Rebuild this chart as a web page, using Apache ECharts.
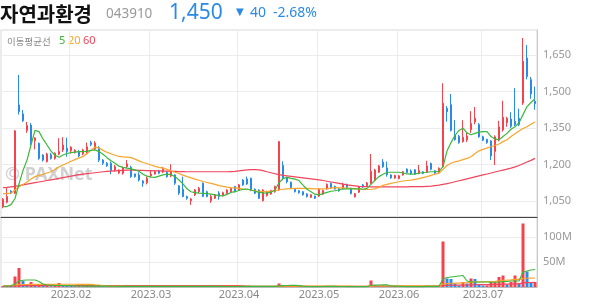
<!DOCTYPE html>
<html><head><meta charset="utf-8">
<script src="https://cdn.jsdelivr.net/npm/echarts@6/dist/echarts.min.js"></script>
<style>html,body{margin:0;padding:0;background:#fff}#c{width:594px;height:304px}</style>
</head><body><div id="c"></div>
<script>
// trading days (2023)
const janDays = [5,6,9,10,11,12,13,16,17,18,19,20,25,26,27,30,31];
const febDays = [1,2,3,6,7,8,9,10,13,14,15,16,17,20,21,22,23,24,27,28];
const marDays = [2,3,6,7,8,9,10,13,14,15,16,17,20,21,22,23,24,27,28,29,30,31];
const aprDays = [3,4,5,6,7,10,11,12,13,14,17,18,19,20,21,24,25,26,27,28];
const mayDays = [2,3,4,8,9,10,11,12,15,16,17,18,19,22,23,24,25,26,30,31];
const junDays = [1,2,5,7,8,9,12,13,14,15,16,19,20,21,22,23,26,27,28,29,30];
const julDays = [3,4,5,6,7,10,11,12,13,14,17,18,19,20];

const openP = [1027,1045,1090,1082,1445,1408,1340,1362,1298,1287,1239,1212,1240,1225,1242,1260,1267,1257,1250,1253,1243,1246,1290,1265,1269,1218,1205,1205,1177,1166,1164,1191,1188,1161,1157,1132,1125,1153,1161,1173,1170,1168,1153,1157,1112,1098,1068,1051,1075,1088,1123,1088,1051,1061,1082,1072,1082,1088,1109,1095,1136,1140,1143,1098,1095,1051,1072,1079,1088,1095,1196,1146,1127,1098,1092,1088,1079,1065,1070,1070,1078,1100,1122,1110,1101,1102,1118,1102,1067,1086,1116,1113,1123,1135,1168,1210,1186,1157,1144,1142,1157,1181,1173,1178,1163,1170,1168,1204,1174,1168,1191,1431,1446,1322,1316,1294,1301,1343,1375,1364,1314,1303,1297,1253,1300,1342,1372,1387,1378,1390,1453,1638,1549,1460];
const closeP = [1057,1068,1082,1338,1417,1380,1360,1294,1309,1225,1218,1243,1225,1246,1253,1280,1253,1271,1258,1235,1260,1273,1282,1288,1218,1205,1195,1175,1191,1177,1187,1202,1150,1150,1136,1123,1143,1160,1170,1164,1180,1150,1170,1123,1082,1068,1061,1058,1095,1102,1068,1068,1068,1075,1068,1084,1095,1102,1088,1116,1116,1120,1095,1082,1061,1095,1088,1092,1109,1294,1143,1129,1105,1088,1084,1075,1068,1075,1061,1098,1093,1118,1104,1099,1092,1118,1106,1080,1080,1109,1108,1124,1172,1177,1194,1191,1158,1145,1155,1153,1170,1167,1163,1160,1175,1163,1194,1180,1163,1184,1452,1417,1340,1302,1290,1312,1317,1369,1390,1314,1300,1290,1235,1314,1355,1394,1390,1357,1364,1364,1624,1562,1490,1450];
const lowP = [1020,1040,1078,1078,1405,1375,1330,1280,1262,1219,1212,1208,1220,1220,1238,1251,1232,1245,1245,1230,1238,1240,1275,1258,1210,1198,1190,1160,1170,1160,1158,1185,1145,1146,1130,1108,1118,1148,1158,1160,1165,1146,1148,1116,1075,1065,1055,1034,1070,1082,1066,1065,1042,1058,1055,1069,1078,1085,1085,1092,1112,1116,1090,1078,1058,1048,1068,1075,1084,1092,1135,1122,1100,1085,1080,1072,1064,1062,1058,1066,1074,1096,1100,1096,1088,1099,1103,1077,1064,1083,1104,1110,1120,1130,1165,1186,1150,1141,1141,1139,1154,1163,1158,1157,1160,1160,1165,1176,1160,1165,1188,1376,1336,1298,1285,1290,1292,1330,1365,1310,1296,1285,1218,1198,1295,1335,1355,1350,1358,1358,1445,1550,1470,1425];
const highP = [1062,1108,1095,1342,1568,1424,1375,1370,1312,1290,1242,1248,1248,1250,1308,1312,1310,1275,1263,1260,1265,1290,1298,1296,1275,1222,1210,1212,1198,1180,1192,1218,1195,1163,1168,1136,1150,1175,1175,1178,1190,1172,1201,1160,1115,1150,1072,1062,1099,1108,1126,1092,1075,1079,1090,1088,1098,1106,1112,1120,1140,1150,1146,1102,1098,1098,1092,1096,1113,1296,1213,1150,1130,1100,1095,1090,1082,1078,1072,1102,1096,1122,1126,1113,1104,1125,1121,1105,1083,1112,1120,1128,1243,1182,1198,1222,1212,1160,1158,1157,1173,1184,1180,1181,1198,1173,1215,1208,1177,1188,1534,1440,1490,1383,1322,1382,1330,1419,1436,1370,1318,1306,1300,1320,1380,1462,1396,1415,1514,1430,1720,1691,1560,1520];

const ma5 = [1027,1027,1035,1060,1120,1175,1218,1280,1340,1335,1305,1280,1255,1238,1230,1239,1245,1249,1251,1253,1253,1254,1258,1260,1253,1242,1228,1215,1205,1193,1188,1185,1182,1178,1172,1160,1152,1148,1147,1152,1157,1160,1158,1150,1136,1120,1100,1088,1084,1082,1081,1080,1078,1075,1072,1071,1077,1085,1088,1093,1098,1099,1095,1090,1085,1083,1082,1086,1095,1125,1142,1147,1143,1140,1134,1115,1098,1088,1078,1075,1080,1085,1090,1092,1095,1099,1100,1100,1100,1100,1098,1102,1118,1136,1150,1160,1167,1168,1168,1168,1165,1161,1160,1161,1164,1167,1168,1170,1170,1172,1191,1255,1290,1320,1340,1349,1330,1322,1328,1333,1335,1335,1315,1305,1301,1315,1328,1345,1355,1372,1405,1438,1455,1470];
const ma20 = [1080,1081,1082,1095,1108,1118,1128,1140,1150,1155,1160,1165,1170,1180,1190,1198,1205,1213,1220,1227,1232,1245,1258,1272,1268,1258,1250,1244,1238,1233,1231,1230,1228,1222,1215,1208,1204,1198,1192,1188,1185,1180,1174,1168,1163,1156,1150,1145,1140,1135,1130,1126,1122,1118,1113,1110,1107,1105,1104,1102,1099,1097,1095,1092,1090,1088,1088,1090,1092,1096,1098,1100,1101,1102,1102,1102,1102,1101,1100,1100,1100,1101,1103,1105,1104,1104,1103,1102,1101,1100,1098,1097,1098,1100,1106,1114,1118,1122,1126,1129,1132,1134,1136,1139,1142,1146,1150,1155,1160,1164,1180,1196,1205,1211,1215,1220,1225,1232,1245,1256,1262,1268,1273,1278,1284,1294,1302,1315,1326,1338,1348,1355,1365,1375];
const ma60 = [1105,1106,1108,1110,1113,1116,1119,1122,1125,1128,1131,1134,1137,1140,1143,1146,1149,1152,1155,1158,1160,1162,1164,1166,1168,1170,1172,1173,1174,1175,1176,1177,1177,1177,1176,1176,1175,1175,1174,1174,1173,1173,1172,1172,1171,1171,1170,1170,1170,1170,1170,1170,1170,1170,1170,1170,1170,1171,1172,1174,1176,1178,1179,1179,1178,1175,1170,1166,1162,1158,1155,1153,1151,1149,1147,1145,1143,1141,1139,1137,1134,1131,1128,1125,1122,1119,1116,1114,1112,1110,1109,1109,1108,1108,1108,1108,1108,1108,1108,1108,1108,1108,1109,1109,1109,1109,1110,1111,1113,1115,1118,1121,1125,1129,1133,1137,1141,1145,1149,1153,1157,1161,1165,1169,1173,1177,1181,1185,1190,1196,1203,1210,1217,1225];

// volume in millions of shares
const volume = [2,4,2,21,38,12,4,10,3,3, 2,2,1.5,2,8,3,2.5,2,1.5,1.8, 1.5,2,1.8,2.2,2,1.5,1.2,1.6,1.3,1.1, 1.2,1.5,1.6,1,1.3,1.5,1.2,1.4,1,0.9, 1.1,1,1.6,1.4,1.5,1.8,1,1.2,1.3,1.1, 1.5,1,1.2,0.9,1,0.8,1,1.1,0.9,1.2, 1.1,1.3,1.5,1,1.2,1.6,1,0.9,1.4,7, 4,2,1.6,1,0.8,0.9,0.8,0.7,0.8,1.5, 1,1.3,1.1,0.8,0.7,1,0.9,0.8,0.7,1.2, 0.9,1,13,3,2.5,2,1.8,1.2,0.9,0.8, 1,0.9,0.8,0.9,1.2,0.8,3,1.5,0.8,1, 91,17,16,7,3,10,7,17,16,5, 3,3.2,10,10.5,20,23,5,10,23,7, 127,31,9,10];
const volMa5 = [1.5,2,2.5,6,12,13.5,14,14,14,11, 6,4,3.5,3,3,3,2.8,2.5,2.2,2, 2,1.9,1.8,1.8,1.8,1.7,1.6,1.5,1.5,1.4, 1.4,1.4,1.4,1.3,1.3,1.3,1.3,1.3,1.2,1.2, 1.2,1.2,1.2,1.3,1.3,1.4,1.4,1.3,1.3,1.3, 1.2,1.2,1.2,1.1,1.1,1,1,1,1,1, 1.1,1.1,1.2,1.2,1.2,1.3,1.3,1.2,1.2,2.3, 2.8,3,3.2,3.1,2.9,1.8,1,0.9,0.8,0.9, 1,1.1,1.1,1.1,1,1,0.9,0.9,0.8,0.9, 0.9,1,3.5,3.8,4,4.3,4.4,2,1.8,1.5, 1.1,0.9,0.9,0.9,0.9,0.9,1.3,1.4,1.4,1.4, 16,19,20,21,22,23,12,10,10,10, 10,10,9.5,9.5,10,11,11,12,12,12, 30,32,34,35];
const volMa20 = [3,3,3,4,5,5,5,5.2,5.2,5.2, 5.2,5.2,5.2,5.2,5.5,5.5,5.5,5.5,5.5,5.4, 5.4,5.3,5.2,4.5,4,2.8,2.3,2,2,1.6, 1.6,1.5,1.5,1.4,1.4,1.4,1.3,1.3,1.3,1.3, 1.3,1.3,1.3,1.3,1.3,1.3,1.3,1.3,1.2,1.2, 1.2,1.2,1.2,1.2,1.2,1.2,1.2,1.2,1.2,1.2, 1.2,1.2,1.2,1.2,1.2,1.2,1.2,1.2,1.2,1.5, 1.6,1.6,1.6,1.6,1.6,1.6,1.6,1.6,1.6,1.6, 1.6,1.6,1.6,1.6,1.6,1.6,1.6,1.6,1.3,1.3, 1.3,1.3,1.9,2,2,2.1,2.1,2.1,2.1,2.1, 2.1,2.1,2.1,2.1,2.1,2.1,2.2,2.2,2.2,2.2, 6,6.8,7.5,7.8,7.9,8.3,8.6,9.4,10.1,10.3, 10.4,10.5,11,11.5,12.4,13.5,13.7,14.1,15.2,15.4, 16.5,17.5,17.8,18];
const volMa60 = [2,2,2,2.2,2.5,2.6,2.6,2.7,2.7,2.7, 2.7,2.7,2.7,2.7,2.8,2.8,2.8,2.8,2.8,2.8, 2.8,2.8,2.8,2.8,2.8,2.8,2.8,2.8,2.8,2.8, 2.8,2.8,2.8,2.8,2.8,2.8,2.8,2.8,2.8,2.8, 2.8,2.8,2.8,2.8,2.8,2.8,2.8,2.8,2.8,2.8, 2.8,2.8,2.8,2.8,2.8,2.8,2.8,2.8,2.8,2.8, 2.4,2,1.6,1.5,1.4,1.4,1.3,1.3,1.3,1.4, 1.4,1.4,1.4,1.4,1.4,1.4,1.4,1.4,1.4,1.4, 1.4,1.4,1.4,1.4,1.4,1.4,1.4,1.4,1.4,1.4, 1.4,1.4,1.6,1.6,1.6,1.6,1.6,1.6,1.6,1.6, 1.6,1.6,1.6,1.6,1.6,1.6,1.6,1.6,1.6,1.6, 3.1,3.4,3.6,3.7,3.7,3.9,4,4.3,4.5,4.6, 4.6,4.6,4.8,5,5.3,5.7,5.7,5.9,6.2,6.3, 8.4,8.9,9,9.2];

const priceTicks = [1050,1200,1350,1500,1650];
const volTicks = [50,100];

const dates = [];
[[1,janDays],[2,febDays],[3,marDays],[4,aprDays],[5,mayDays],[6,junDays],[7,julDays]].forEach(([m,ds]) => {
  ds.forEach(d => dates.push('2023.' + String(m).padStart(2,'0') + '.' + String(d).padStart(2,'0')));
});
const monthStart = new Set();
dates.forEach((d,i) => { if (i > 0 && d.slice(0,7) !== dates[i-1].slice(0,7)) monthStart.add(i); });
const isMonthStart = (i) => monthStart.has(i);

const UP = '#f4434c', DOWN = '#2a8ae8';
const G = '#3cb83c', O = '#f8a52a', R = '#f0455a';

const candle = openP.map((o,i) => [o, closeP[i], lowP[i], highP[i]]);
const volData = volume.map((v,i) => ({ value: v, itemStyle: { color: (i === 0 || v >= volume[i-1]) ? UP : DOWN } }));

const chart = echarts.init(document.getElementById('c'), null, {renderer: 'canvas'});
const lineS = (name, data, color, xi) => ({
  name, type: 'line', data, xAxisIndex: xi, yAxisIndex: xi, symbol: 'none', z: 3,
  lineStyle: { color, width: 1.2 }, itemStyle: { color }, silent: true
});
chart.setOption({
  animation: false,
  backgroundColor: '#fff',
  grid: [
    { left: 1, right: 57, top: 30, height: 187, show: true, borderColor: '#d8d8d8', borderWidth: 1 },
    { left: 1, right: 57, top: 217, height: 70, show: true, borderColor: '#d8d8d8', borderWidth: 1 }
  ],
  xAxis: [
    { type: 'category', gridIndex: 0, data: dates, boundaryGap: true,
      axisLine: { show: true, lineStyle: { color: '#444', width: 1 }, onZero: false },
      axisTick: { show: false, interval: isMonthStart }, axisLabel: { show: false, interval: isMonthStart },
      splitLine: { show: true, interval: isMonthStart, lineStyle: { color: '#ececec', width: 1 } } },
    { type: 'category', gridIndex: 1, data: dates, boundaryGap: true,
      axisLine: { show: true, lineStyle: { color: '#bbb', width: 1 }, onZero: false },
      axisTick: { show: false, interval: isMonthStart },
      axisLabel: { show: true, interval: isMonthStart, formatter: v => v.slice(0,7), color: '#888',
        fontSize: 11, fontFamily: 'Noto Sans', margin: 2 },
      splitLine: { show: true, interval: isMonthStart, lineStyle: { color: '#ececec', width: 1 } } }
  ],
  yAxis: [
    { type: 'value', gridIndex: 0, position: 'right', min: 984, max: 1753, scale: true,
      axisLine: { show: true, lineStyle: { color: '#c8c8c8' } },
      axisTick: { show: false, customValues: priceTicks },
      axisLabel: { customValues: priceTicks, formatter: v => v.toLocaleString('en-US'), color: '#999',
        fontSize: 11, fontFamily: 'Noto Sans', margin: 6, padding: [3,0,0,0] },
      splitLine: { show: true, lineStyle: { color: '#ececec' } } },
    { type: 'value', gridIndex: 1, position: 'right', min: 0, max: 140,
      axisLine: { show: true, lineStyle: { color: '#c8c8c8' } },
      axisTick: { show: false, customValues: volTicks },
      axisLabel: { customValues: volTicks, formatter: v => v + 'M', color: '#999',
        fontSize: 11, fontFamily: 'Noto Sans', margin: 6, padding: [2,0,0,0] },
      splitLine: { show: true, lineStyle: { color: '#ececec' } } }
  ],
  series: [
    { type: 'candlestick', xAxisIndex: 0, yAxisIndex: 0, data: candle, barWidth: 2, z: 2,
      itemStyle: { color: UP, color0: DOWN, borderColor: UP, borderColor0: DOWN, borderWidth: 1 } },
    lineS('MA60', ma60, R, 0),
    lineS('MA20', ma20, O, 0),
    lineS('MA5', ma5, G, 0),
    { type: 'bar', xAxisIndex: 1, yAxisIndex: 1, data: volData, barWidth: 3, z: 2 },
    lineS('vMA60', volMa60, R, 1),
    lineS('vMA20', volMa20, O, 1),
    lineS('vMA5', volMa5, G, 1)
  ],
  graphic: [
    { type: 'text', x: 5, y: 175, z: 0, style: { text: '© PAXNet', font: 'bold 18px "Noto Sans"', fill: 'rgba(150,150,150,0.45)', verticalAlign: 'middle' } },
    { type: 'text', x: 0, y: 14, style: { text: '자연과환경', font: 'bold 20px "Noto Sans CJK KR"', fill: '#111', verticalAlign: 'middle' } },
    { type: 'text', x: 106, y: 14, style: { text: '043910', font: '13.5px "Noto Sans"', fill: '#999', verticalAlign: 'middle' } },
    { type: 'text', x: 169, y: 13, style: { text: '1,450', font: '21px "Noto Sans"', fill: '#2a8ae8', verticalAlign: 'middle' } },
    { type: 'text', x: 236, y: 12, style: { text: '▼', font: '10px "DejaVu Sans"', fill: '#2a8ae8', verticalAlign: 'middle' } },
    { type: 'text', x: 250, y: 13, style: { text: '40', font: '14px "Noto Sans"', fill: '#2a8ae8', verticalAlign: 'middle' } },
    { type: 'text', x: 273, y: 13, style: { text: '-2.68%', font: '14px "Noto Sans"', fill: '#2a8ae8', verticalAlign: 'middle' } },
    { type: 'text', x: 7, y: 41, style: { text: '이동평균선', font: '9.5px "Noto Sans CJK KR"', fill: '#888', verticalAlign: 'middle' } },
    { type: 'text', x: 59, y: 41, style: { text: '5', font: '11px "Noto Sans"', fill: G, verticalAlign: 'middle' } },
    { type: 'text', x: 68, y: 41, style: { text: '20', font: '11px "Noto Sans"', fill: O, verticalAlign: 'middle' } },
    { type: 'text', x: 83, y: 41, style: { text: '60', font: '11px "Noto Sans"', fill: R, verticalAlign: 'middle' } }
  ]
});
</script></body></html>
